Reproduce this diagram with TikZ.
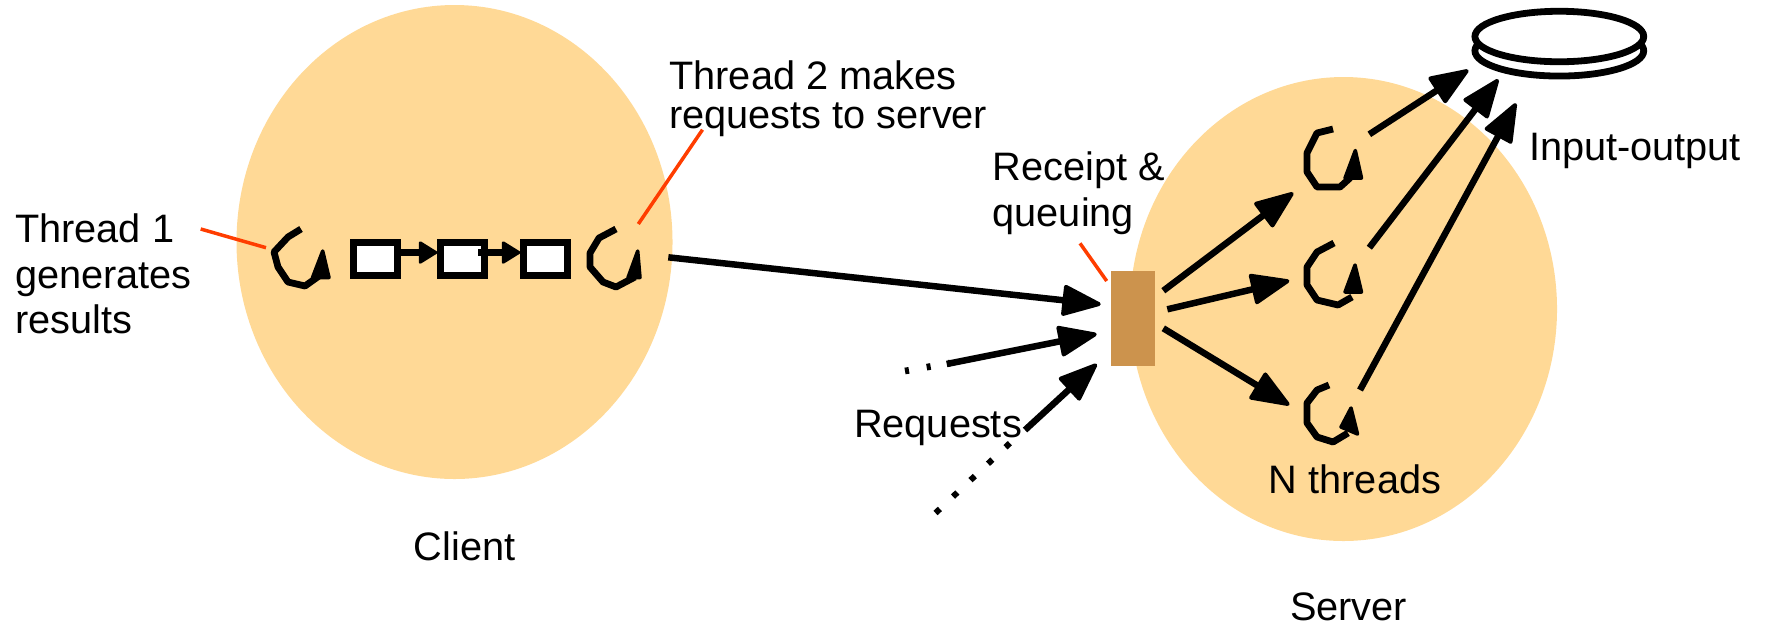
\documentclass[tikz,border=0pt]{standalone}
\usepackage{fontspec}
\setmainfont{Liberation Sans}
\usetikzlibrary{arrows.meta,shapes.geometric}
\definecolor{blobcolor}{RGB}{255,217,150}
\definecolor{queuecolor}{RGB}{204,147,77}
\definecolor{calloutcolor}{RGB}{255,61,0}
\tikzset{
  blob/.style={ellipse,fill=blobcolor,inner sep=0pt},
  msgbox/.style={draw,line width=.067cm,fill=white,inner sep=0pt,minimum width=.44cm,minimum height=.33cm},
  disk/.style={ellipse,draw,line width=.068cm,fill=white,inner sep=0pt,minimum width=1.688cm,minimum height=.505cm},
  label/.style={inner sep=0pt,font=\fontsize{11.3pt}{13pt}\selectfont},
  bigarrow/.style={line width=.065cm,-{Triangle[length=.42cm,width=.32cm,line width=.04cm,round]}},
  smallarrow/.style={line width=.067cm,-{Triangle[length=.20cm,width=.24cm,line width=.03cm,round]}},
  callout/.style={calloutcolor,line width=.035cm},
  threadline/.style={line width=.068cm,line join=round},
  threadhead/.style={fill,draw,line width=.035cm,line join=round},
  reqdots/.style={line width=.06cm,dash pattern=on 1.7pt off 5.13pt},
  reqticks/.style={line width=.067cm,dash pattern=on 1.14pt off 5.12pt},
}
\begin{document}
\begin{tikzpicture}
  \useasboundingbox (0,0) rectangle (17.68,6.28);
  % client and server
  \node[blob,minimum width=4.36cm,minimum height=4.74cm] (client) at (4.545,3.86) {};
  \node[blob,minimum width=4.27cm,minimum height=4.64cm] (server) at (13.435,3.19) {};
  \node[fill=queuecolor,inner sep=0pt,minimum width=.44cm,minimum height=.95cm] (queue) at (11.33,3.095) {};
  % disk
  \node[disk] (diskB) at (15.593,5.772) {};
  \node[disk] (diskA) at (15.593,5.915) {};
  % queue of results
  \node[msgbox] (boxA) at (3.753,3.688) {};
  \node[msgbox] (boxB) at (4.627,3.688) {};
  \node[msgbox] (boxC) at (5.457,3.688) {};
  \draw[smallarrow] ([yshift=.067cm]boxA.east) -- ([yshift=.067cm]boxB.west);
  \draw[smallarrow] ([yshift=.067cm,xshift=-.1cm]boxB.east) -- ([yshift=.067cm]boxC.west);
  % threads
  \draw[threadline] (3.01,3.99) -- (2.88,3.91) -- (2.74,3.76) -- (2.78,3.61) -- (2.88,3.46) -- (3.05,3.42) -- (3.19,3.52);
  \filldraw[threadhead] (3.227,3.77) -- (3.29,3.505) -- (3.125,3.505) -- cycle;
  \draw[threadline] (6.16,3.99) -- (5.99,3.90) -- (5.90,3.75) -- (5.90,3.61) -- (6.03,3.46) -- (6.16,3.41) -- (6.35,3.51);
  \filldraw[threadhead] (6.377,3.77) -- (6.40,3.505) -- (6.28,3.505) -- cycle;
  \draw[threadline] (13.33,4.99) -- (13.17,4.95) -- (13.07,4.75) -- (13.07,4.56) -- (13.17,4.41) -- (13.40,4.41) -- (13.50,4.50);
  \filldraw[threadhead] (13.553,4.775) -- (13.615,4.50) -- (13.45,4.50) -- cycle;
  \draw[threadline] (13.34,3.85) -- (13.17,3.76) -- (13.07,3.61) -- (13.07,3.43) -- (13.17,3.28) -- (13.38,3.23) -- (13.52,3.31);
  \filldraw[threadhead] (13.55,3.63) -- (13.615,3.36) -- (13.45,3.36) -- cycle;
  \draw[threadline] (13.29,2.43) -- (13.17,2.38) -- (13.07,2.25) -- (13.07,2.05) -- (13.17,1.91) -- (13.33,1.86) -- (13.48,1.95);
  \filldraw[threadhead] (13.51,2.20) -- (13.575,1.94) -- (13.41,2.01) -- cycle;
  % arrow ends
  \coordinate (outC) at (6.683,3.707);
  \coordinate (inA) at (11.007,3.237);
  \coordinate (reqBdots) at (9.05,2.57);
  \coordinate (reqBend) at (9.50,2.65);
  \coordinate (reqB) at (9.467,2.64);
  \coordinate (inB) at (10.967,2.94);
  \coordinate (reqCdots) at (9.355,1.15);
  \coordinate (reqCdotsEnd) at (10.10,1.85);
  \coordinate (reqC) at (10.25,1.98);
  \coordinate (inC) at (10.967,2.64);
  \coordinate (qA) at (11.633,3.373);
  \coordinate (qB) at (11.673,3.187);
  \coordinate (qC) at (11.633,2.997);
  \coordinate (thA) at (12.933,4.353);
  \coordinate (thB) at (12.893,3.473);
  \coordinate (thC) at (12.893,2.23);
  \coordinate (wrA) at (13.693,4.937);
  \coordinate (wrB) at (13.693,3.803);
  \coordinate (wrC) at (13.60,2.38);
  \coordinate (ioA) at (14.683,5.58);
  \coordinate (ioB) at (14.983,5.487);
  \coordinate (ioC) at (15.16,5.247);
  % arrows
  \draw[bigarrow] (outC) -- (inA);
  \draw[bigarrow] (reqB) -- (inB);
  \draw[bigarrow] (reqC) -- (inC);
  \draw[reqticks] (reqBdots) -- (reqBend);
  \draw[reqdots] (reqCdots) -- (reqCdotsEnd);
  \draw[bigarrow] (qA) -- (thA);
  \draw[bigarrow] (qB) -- (thB);
  \draw[bigarrow] (qC) -- (thC);
  \draw[bigarrow] (wrA) -- (ioA);
  \draw[bigarrow] (wrB) -- (ioB);
  \draw[bigarrow] (wrC) -- (ioC);
  % callouts
  \coordinate (tOne) at (2.007,3.99);
  \coordinate (tOneEnd) at (2.66,3.803);
  \coordinate (tTwo) at (7.025,4.983);
  \coordinate (tTwoEnd) at (6.383,4.04);
  \coordinate (qLabel) at (10.80,3.847);
  \coordinate (qLabelEnd) at (11.067,3.47);
  \draw[callout] (tOne) -- (tOneEnd);
  \draw[callout] (tTwo) -- (tTwoEnd);
  \draw[callout] (qLabel) -- (qLabelEnd);
  % labels
  \node[label,align=left,anchor=west] (threadOne) at (.145,3.54) {Thread 1\\generates\\results};
  \node[label,align=left,anchor=west] (threadTwo) at (6.687,5.29) {Thread 2 makes\\[-2pt]requests to server};
  \node[label,align=left,anchor=west] (receipt) at (9.92,4.35) {Receipt \&\\queuing};
  \node[label] (clientLabel) at (4.646,.82) {Client};
  \node[label] (serverLabel) at (13.486,.212) {Server};
  \node[label] (nThreads) at (13.55,1.49) {N threads};
  \node[label] (requests) at (9.38,2.005) {Requests};
  \node[label] (ioLabel) at (16.35,4.77) {Input-output};
\end{tikzpicture}
\end{document}
